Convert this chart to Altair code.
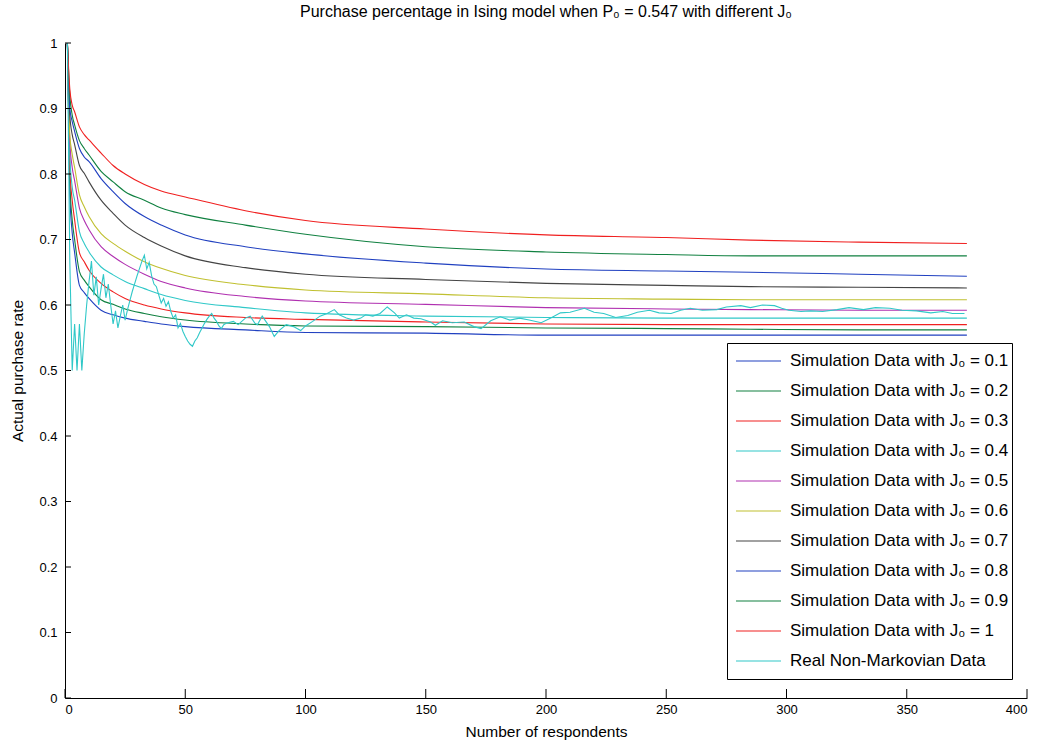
import altair as alt
import pandas as pd

# respondent counts at which the simulated purchase rates are sampled
n_sim = [1, 2, 3, 4, 6, 8, 10, 15, 20, 25, 33, 40, 50, 75, 100, 150, 200, 250, 285, 330, 375]

j_labels = ["0.1", "0.2", "0.3", "0.4", "0.5", "0.6", "0.7", "0.8", "0.9", "1"]

sim_j01 = [1.0, 0.770, 0.710, 0.680, 0.630, 0.619, 0.610, 0.592, 0.585, 0.580, 0.575, 0.571, 0.567, 0.562, 0.558, 0.557, 0.554, 0.554, 0.554, 0.554, 0.554]
sim_j02 = [1.0, 0.790, 0.730, 0.700, 0.651, 0.638, 0.628, 0.608, 0.601, 0.594, 0.587, 0.582, 0.577, 0.571, 0.568, 0.567, 0.565, 0.564, 0.563, 0.562, 0.562]
sim_j03 = [1.0, 0.810, 0.760, 0.730, 0.680, 0.666, 0.653, 0.633, 0.620, 0.610, 0.600, 0.594, 0.588, 0.581, 0.578, 0.574, 0.571, 0.570, 0.570, 0.570, 0.570]
sim_j04 = [1.0, 0.830, 0.780, 0.760, 0.712, 0.694, 0.681, 0.658, 0.646, 0.636, 0.625, 0.616, 0.607, 0.596, 0.588, 0.583, 0.581, 0.580, 0.580, 0.580, 0.580]
sim_j05 = [1.0, 0.850, 0.810, 0.790, 0.748, 0.729, 0.715, 0.689, 0.674, 0.662, 0.647, 0.636, 0.626, 0.613, 0.606, 0.601, 0.596, 0.594, 0.593, 0.592, 0.592]
sim_j06 = [1.0, 0.860, 0.830, 0.810, 0.768, 0.750, 0.735, 0.709, 0.694, 0.682, 0.666, 0.656, 0.645, 0.631, 0.623, 0.617, 0.611, 0.609, 0.608, 0.608, 0.608]
sim_j07 = [1.0, 0.890, 0.860, 0.845, 0.813, 0.801, 0.788, 0.760, 0.740, 0.722, 0.703, 0.690, 0.675, 0.657, 0.647, 0.639, 0.633, 0.630, 0.628, 0.627, 0.626]
sim_j08 = [1.0, 0.900, 0.880, 0.865, 0.839, 0.826, 0.819, 0.793, 0.773, 0.755, 0.735, 0.722, 0.707, 0.689, 0.678, 0.664, 0.655, 0.652, 0.650, 0.647, 0.644]
sim_j09 = [1.0, 0.920, 0.890, 0.875, 0.851, 0.839, 0.829, 0.804, 0.788, 0.773, 0.760, 0.748, 0.738, 0.722, 0.708, 0.689, 0.681, 0.677, 0.675, 0.675, 0.675]
sim_j10 = [1.0, 0.930, 0.905, 0.895, 0.872, 0.860, 0.852, 0.832, 0.813, 0.800, 0.784, 0.774, 0.765, 0.744, 0.729, 0.716, 0.707, 0.703, 0.699, 0.696, 0.694]

sim_curves = [sim_j01, sim_j02, sim_j03, sim_j04, sim_j05, sim_j06, sim_j07, sim_j08, sim_j09, sim_j10]

# observed cumulative purchase rate of the real respondents
real_n = list(range(1, 67)) + [
    67, 70, 72, 75, 77, 79, 80, 82, 85, 87, 89, 92, 95, 98, 100, 103, 106, 109, 112, 114,
    117, 120, 123, 125, 128, 131, 134, 137, 139, 142, 145, 148, 152, 154, 157, 161, 166, 170,
    173, 177, 181, 185, 189, 193, 198, 202, 206, 210, 216, 220, 224, 229, 234, 238, 243, 247,
    252, 256, 260, 265, 271, 275, 281, 285, 290, 295, 298, 301, 306, 310, 315, 321, 326, 332,
    337, 343, 348, 354, 360, 365, 369, 374,
]
real_v = [
    1.000, 0.667, 0.500, 0.571, 0.500, 0.571, 0.500, 0.556, 0.600, 0.636,
    0.667, 0.615, 0.643, 0.600, 0.625, 0.647, 0.611, 0.632, 0.600, 0.571,
    0.591, 0.565, 0.583, 0.600, 0.577, 0.593, 0.607, 0.621, 0.633, 0.645,
    0.656, 0.667, 0.676, 0.655, 0.665, 0.645, 0.632, 0.628, 0.615, 0.603,
    0.610, 0.598, 0.605, 0.590, 0.580, 0.585, 0.565, 0.572, 0.560, 0.552,
    0.545, 0.540, 0.537, 0.545, 0.550, 0.558, 0.565, 0.572, 0.578, 0.583,
    0.587, 0.580, 0.575, 0.568, 0.564, 0.570,
    0.572, 0.575, 0.570, 0.580, 0.583, 0.572, 0.570, 0.583, 0.567, 0.552, 0.561, 0.570, 0.567, 0.561, 0.568, 0.575, 0.583, 0.587, 0.593, 0.585,
    0.580, 0.577, 0.580, 0.585, 0.583, 0.587, 0.597, 0.588, 0.580, 0.585, 0.580, 0.579, 0.574, 0.569, 0.576, 0.573, 0.574, 0.567,
    0.564, 0.576, 0.582, 0.577, 0.580, 0.577, 0.573, 0.580, 0.588, 0.589, 0.595, 0.589, 0.587, 0.581, 0.584, 0.589, 0.592, 0.588,
    0.587, 0.592, 0.595, 0.592, 0.593, 0.597, 0.599, 0.596, 0.600, 0.599, 0.595, 0.592, 0.590, 0.591, 0.590, 0.593, 0.596, 0.593,
    0.596, 0.595, 0.592, 0.591, 0.588, 0.590, 0.587, 0.587,
]

series_names = [f"Simulation Data with J\u2080 = {j}" for j in j_labels] + ["Real Non-Markovian Data"]
series_colors = ["#2040c0", "#108040", "#f02020", "#30c8c8", "#b030b0", "#c0c030",
                 "#444444", "#2040c0", "#108040", "#f02020", "#30c8c8"]

x_ticks = [0, 50, 100, 150, 200, 250, 300, 350, 400]
y_ticks = [0, 0.1, 0.2, 0.3, 0.4, 0.5, 0.6, 0.7, 0.8, 0.9, 1]

sim_rows = []
for name, values in zip(series_names[:-1], sim_curves):
    for n, v in zip(n_sim, values):
        sim_rows.append({"series": name, "n": n, "rate": v})
sim_df = pd.DataFrame(sim_rows)
real_df = pd.DataFrame({"series": series_names[-1], "n": real_n, "rate": real_v})

W, H = 962, 655
FONT = "Liberation Sans"

x_enc = alt.X("n:Q", scale=alt.Scale(domain=[0, 400], nice=False),
              axis=alt.Axis(values=x_ticks, title="Number of respondents", grid=False,
                            ticks=False, labelPadding=5, titlePadding=8, format="d"))
y_enc = alt.Y("rate:Q", scale=alt.Scale(domain=[0, 1], nice=False),
              axis=alt.Axis(values=y_ticks, title="Actual purchase rate", grid=False,
                            ticks=False, labelPadding=8, titlePadding=13, format=".1~f"))
color_enc = alt.Color(
    "series:N",
    scale=alt.Scale(domain=series_names, range=series_colors),
    sort=series_names,
    legend=alt.Legend(
        title=None, orient="none", legendX=662, legendY=300,
        symbolType="stroke", symbolSize=2025, symbolStrokeWidth=1.2, symbolOffset=5,
        labelFont=FONT, labelFontSize=17, labelColor="black", labelLimit=400,
        labelOffset=8, rowPadding=0, clipHeight=30, padding=3,
        strokeColor="black", fillColor="white",
    ),
)

sim_lines = alt.Chart(sim_df).mark_line(strokeWidth=1.1, interpolate="monotone").encode(
    x=x_enc, y=y_enc, color=color_enc, detail="series:N"
)
real_line = alt.Chart(real_df).mark_line(strokeWidth=1.1).encode(
    x="n:Q", y="rate:Q", color=alt.Color("series:N")
)

# MATLAB-style inward tick marks along both axes
y_tick_marks = alt.Chart(pd.DataFrame({"rate": y_ticks})).mark_rule(color="black", strokeWidth=1).encode(
    y="rate:Q", x=alt.value(0), x2=alt.value(6)
)
x_tick_marks = alt.Chart(pd.DataFrame({"n": x_ticks})).mark_rule(color="black", strokeWidth=1).encode(
    x="n:Q", y=alt.value(H), y2=alt.value(H - 9)
)

chart = alt.layer(sim_lines, real_line, y_tick_marks, x_tick_marks).properties(
    width=W, height=H,
    title=alt.TitleParams(
        "Purchase percentage in Ising model when P\u2080 = 0.547 with different J\u2080",
        font=FONT, fontSize=16, fontWeight="normal", color="black", anchor="middle", offset=17,
    ),
    autosize=alt.AutoSizeParams(type="none"),
    padding={"left": 65, "top": 43, "right": 23, "bottom": 49},
    background="white",
).configure_view(stroke=None).configure_axis(
    domainColor="black", domainWidth=1, labelFont=FONT, labelFontSize=13, labelColor="black",
    titleFont=FONT, titleFontSize=15.5, titleFontWeight="normal", titleColor="black",
)

chart.save("out.html", embed_options={"renderer": "svg", "actions": False})
